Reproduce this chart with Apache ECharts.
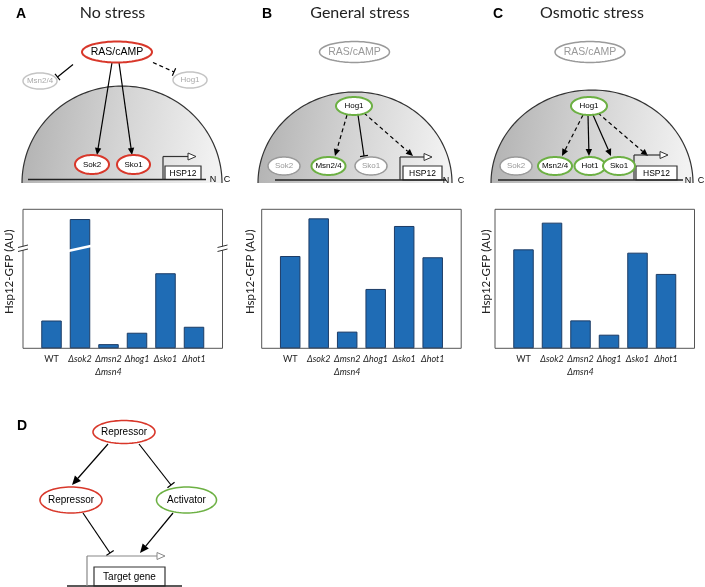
<!DOCTYPE html>
<html><head><meta charset="utf-8">
<script src="https://cdn.jsdelivr.net/npm/echarts@6.0.0/dist/echarts.min.js"></script>
<style>html,body{margin:0;padding:0;background:#fff}#c{width:705px;height:587px}</style>
</head><body><div id="c"></div>
<script>
// ---- data ----
const categories = ['WT', 'Δsok2', 'Δmsn2\nΔmsn4', 'Δhog1', 'Δsko1', 'Δhot1'];
const noStress = [20, 93, 3, 11.2, 54, 15.5];
const generalStress = [66.4, 93.5, 12, 42.7, 88, 65.5];
const osmoticStress = [71.2, 90.4, 20.1, 9.8, 68.8, 53.5];
const panelTitles = ['No stress', 'General stress', 'Osmotic stress'];
const yName = 'Hsp12-GFP (AU)';

// ---- styles ----
const RED = '#d8372a', GREEN = '#6cb043', GRAY = '#9a9a9a', LGRAY = '#c4c4c4';
const BAR = '#1f6cb5', BAR_EDGE = '#1d3c66';
const DFONT = '"Liberation Sans", Arial, sans-serif';

const chart = echarts.init(document.getElementById('c'));

const gridLefts = [23, 261.7, 495];
const nameGaps = [8, 5, 3];
const seriesData = [noStress, generalStress, osmoticStress];

function labelFmt(v) {
  const c = categories[v];
  if (c === undefined) return '';
  if (c === 'WT') return '{n|WT}';
  return c.split('\n').map(s => '{i|' + s + '}').join('\n');
}

const grids = [], xAxes = [], yAxes = [], series = [];
for (let p = 0; p < 3; p++) {
  grids.push({left: gridLefts[p], top: 209.3, width: 199.5, height: 139,
    show: true, borderColor: '#555', borderWidth: 1, backgroundColor: 'transparent'});
  xAxes.push({type: 'value', gridIndex: p, min: -1, max: 6, interval: 1,
    axisLine: {show: false}, axisTick: {show: false}, splitLine: {show: false},
    axisLabel: {margin: 4, formatter: labelFmt, showMinLabel: true, showMaxLabel: true,
      rich: {
        i: {fontFamily: 'Lato, sans-serif', fontStyle: 'italic', fontSize: 9, color: '#222', lineHeight: 13.5},
        n: {fontFamily: 'Lato, sans-serif', fontSize: 9, color: '#222', lineHeight: 13.5}
      }}});
  yAxes.push({type: 'value', gridIndex: p, min: 0, max: 100,
    axisLine: {show: false}, axisTick: {show: false}, splitLine: {show: false}, axisLabel: {show: false},
    name: yName, nameLocation: 'middle', nameRotate: 90, nameGap: nameGaps[p],
    nameTextStyle: {fontFamily: 'Lato, sans-serif', fontSize: 11.5, color: '#222', padding: [0, 0, 0, 14]}});
  series.push({type: 'bar', xAxisIndex: p, yAxisIndex: p, barWidth: 20.5,
    data: seriesData[p].map((v, i) => [i, v]),
    itemStyle: {color: BAR, borderColor: BAR_EDGE, borderWidth: 1},
    silent: true, animation: false});
}

// ---- diagram helpers ----
const G = [];
function ellPts(cx, cy, rx, ry, a0, a1, n) {
  const pts = [];
  for (let k = 0; k <= n; k++) {
    const a = a0 + (a1 - a0) * k / n;
    pts.push([cx + rx * Math.cos(a), cy + ry * Math.sin(a)]);
  }
  return pts;
}
function node(cx, cy, rx, ry, label, stroke, tcolor, fs, lw) {
  G.push({type: 'polygon', shape: {points: ellPts(cx, cy, rx, ry, 0, Math.PI * 2, 72)},
    style: {fill: '#fff', stroke, lineWidth: lw || 2}, z: 10});
  G.push({type: 'text', style: {text: label, x: cx, y: cy, textAlign: 'center', textVerticalAlign: 'middle',
    font: fs + 'px ' + DFONT, fill: tcolor}, z: 11});
}
function txt(x, y, s, font, color, align) {
  G.push({type: 'text', style: {text: s, x, y, textAlign: align || 'center', textVerticalAlign: 'middle',
    font, fill: color || '#000'}, z: 11});
}
function line(x1, y1, x2, y2, color, lw, dash) {
  G.push({type: 'line', shape: {x1, y1, x2, y2}, style: {stroke: color || '#000', lineWidth: lw || 1.2, lineDash: dash || null}, z: 9});
}
function arrow(x1, y1, x2, y2, dashed, L, W) {
  L = L || 7; W = W || 3.2;
  const dx = x2 - x1, dy = y2 - y1, d = Math.hypot(dx, dy), ux = dx / d, uy = dy / d;
  const bx = x2 - ux * L, by = y2 - uy * L;
  line(x1, y1, bx, by, '#000', 1.2, dashed ? [4, 3] : null);
  G.push({type: 'polygon', shape: {points: [[x2, y2], [bx - uy * W, by + ux * W], [bx + uy * W, by - ux * W]]},
    style: {fill: '#000'}, z: 9});
}
function tbar(x1, y1, x2, y2, dashed, H) {
  H = H || 4;
  const dx = x2 - x1, dy = y2 - y1, d = Math.hypot(dx, dy), ux = dx / d, uy = dy / d;
  line(x1, y1, x2, y2, '#000', 1.2, dashed ? [4, 3] : null);
  line(x2 - uy * H, y2 + ux * H, x2 + uy * H, y2 - ux * H, '#000', 1.2);
}
function dome(cx, bottom, rx, ry) {
  const pts = ellPts(cx, bottom, rx, ry, Math.PI, Math.PI * 2, 90);
  G.push({type: 'polygon', shape: {points: pts}, style: {
    fill: {type: 'linear', x: 0, y: 0, x2: 1, y2: 0.3, colorStops: [
      {offset: 0, color: '#b0b0b0'}, {offset: 0.5, color: '#d3d3d3'}, {offset: 1, color: '#f2f2f2'}]},
    stroke: null}, z: 1});
  G.push({type: 'polyline', shape: {points: pts}, style: {fill: null, stroke: '#333', lineWidth: 1.2}, z: 2});
}
function promoter(x, yb, ytop, xend, color) {
  color = color || '#333';
  line(x, yb, x, ytop, color, 1.2);
  line(x, ytop, xend, ytop, color, 1.2);
  G.push({type: 'polygon', shape: {points: [[xend + 8, ytop], [xend, ytop - 3.5], [xend, ytop + 3.5]]},
    style: {fill: '#fff', stroke: color, lineWidth: 1}, z: 9});
}
function geneBox(x, y, w, h, label, fs) {
  G.push({type: 'rect', shape: {x, y, width: w, height: h}, style: {fill: '#fff', stroke: '#333', lineWidth: 1.2}, z: 8});
  txt(x + w / 2, y + h / 2 + 0.5, label, fs + 'px ' + DFONT, '#000');
}

// ---- titles & letters ----
const TFONT = '16px Lato, sans-serif';
txt(112.5, 13, panelTitles[0], TFONT, '#222');
txt(360, 13, panelTitles[1], TFONT, '#222');
txt(592, 13, panelTitles[2], TFONT, '#222');
const LFONT = 'bold 14px ' + DFONT;
txt(16, 14, 'A', LFONT, '#000', 'left');
txt(262, 14, 'B', LFONT, '#000', 'left');
txt(493, 14, 'C', LFONT, '#000', 'left');
txt(17, 426, 'D', LFONT, '#000', 'left');

// ---- panel A diagram ----
dome(122, 183, 100, 97);
line(28, 179.5, 206, 179.5, '#222', 1.3);
node(117, 52, 35, 10.5, 'RAS/cAMP', RED, '#000', 10.5, 2);
node(40, 81, 17, 8, 'Msn2/4', LGRAY, '#aaa', 8, 1.5);
node(190, 80, 17, 8, 'Hog1', LGRAY, '#aaa', 8, 1.5);
tbar(73, 64.5, 57.5, 77);
tbar(153, 62.5, 174, 72, true);
arrow(112, 62.5, 97, 155);
arrow(119, 62.5, 132, 155);
node(92, 164.5, 17, 9.5, 'Sok2', RED, '#000', 8, 2);
node(133.5, 164.5, 16.5, 9.5, 'Sko1', RED, '#000', 8, 2);
promoter(163, 179.5, 156.5, 188);
geneBox(165, 166, 36, 13.5, 'HSP12', 8.5);
txt(213, 180, 'N', '9px ' + DFONT, '#000');
txt(227, 180, 'C', '9px ' + DFONT, '#000');

// ---- panel B diagram ----
node(354.5, 52, 35, 10.5, 'RAS/cAMP', GRAY, '#999', 10.5, 1.5);
dome(355, 183, 97, 91);
line(275, 180, 446, 180, '#222', 1.3);
node(354, 106, 18, 9, 'Hog1', GREEN, '#000', 8, 2);
arrow(347, 115, 335, 156, true);
tbar(358, 115, 364, 156);
arrow(364, 113, 413, 156, true);
node(284, 166, 16, 9, 'Sok2', GRAY, '#999', 8, 1.5);
node(328.5, 166, 17, 9, 'Msn2/4', GREEN, '#000', 8, 2);
node(371, 166, 16, 9, 'Sko1', GRAY, '#999', 8, 1.5);
promoter(400, 180, 157, 424);
geneBox(403, 166, 39, 14, 'HSP12', 8.5);
txt(446, 181, 'N', '9px ' + DFONT, '#000');
txt(461, 181, 'C', '9px ' + DFONT, '#000');

// ---- panel C diagram ----
node(590, 52, 35, 10.5, 'RAS/cAMP', GRAY, '#999', 10.5, 1.5);
dome(592, 183, 101, 93);
line(498, 180, 683, 180, '#222', 1.3);
node(589, 106, 18, 9, 'Hog1', GREEN, '#000', 8, 2);
arrow(583, 115, 562, 156, true);
arrow(588, 115, 589, 156);
arrow(593, 115, 611, 156);
arrow(598, 113, 648, 156, true);
node(516, 166, 16, 9, 'Sok2', GRAY, '#999', 8, 1.5);
node(555, 166, 17, 9, 'Msn2/4', GREEN, '#000', 8, 2);
node(590, 166, 15.5, 9, 'Hot1', GREEN, '#000', 8, 2);
node(619, 166, 16, 9, 'Sko1', GREEN, '#000', 8, 2);
promoter(634, 180, 155, 660);
geneBox(636, 166, 41, 14, 'HSP12', 8.5);
txt(688, 181, 'N', '9px ' + DFONT, '#000');
txt(701, 181, 'C', '9px ' + DFONT, '#000');

// ---- panel D diagram ----
node(124, 432, 31, 11.5, 'Repressor', RED, '#000', 10, 1.6);
node(71, 500, 31, 13, 'Repressor', RED, '#000', 10, 1.6);
node(186.5, 500, 30, 13, 'Activator', GREEN, '#000', 10, 1.6);
arrow(108, 444, 72, 485, false, 9, 4);
tbar(139, 444, 171, 485, false, 4.5);
tbar(83, 513, 110, 553, false, 4.5);
arrow(173, 513, 140, 553, false, 9, 4);
line(67, 586, 182, 586, '#222', 1.3);
promoter(87, 586, 556, 157, '#888');
geneBox(94, 567, 71, 19, 'Target gene', 10);

// ---- axis-break decorations (panel A) ----
G.push({type: 'line', shape: {x1: 68, y1: 251, x2: 93, y2: 245.5}, style: {stroke: '#fff', lineWidth: 2.6}, z: 20});
[23, 222.5].forEach(x => {
  G.push({type: 'rect', shape: {x: x - 2, y: 246.5, width: 4, height: 3.5}, style: {fill: '#fff'}, z: 20});
  G.push({type: 'line', shape: {x1: x - 5, y1: 247.5, x2: x + 5, y2: 245}, style: {stroke: '#333', lineWidth: 1}, z: 21});
  G.push({type: 'line', shape: {x1: x - 5, y1: 251.5, x2: x + 5, y2: 249}, style: {stroke: '#333', lineWidth: 1}, z: 21});
});

chart.setOption({
  animation: false,
  grid: grids, xAxis: xAxes, yAxis: yAxes, series: series,
  graphic: {elements: G}
});
</script>
</body></html>
